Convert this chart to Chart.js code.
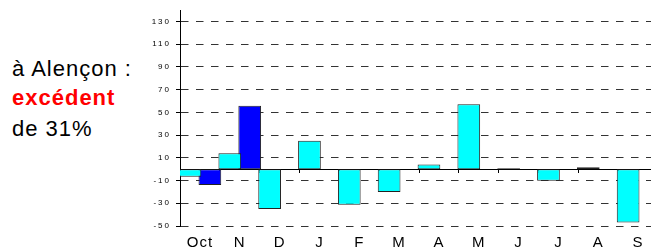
<!DOCTYPE html>
<html>
<head>
<meta charset="utf-8">
<script src="https://cdn.jsdelivr.net/npm/chart.js@4"></script>
<style>
  html, body { margin: 0; padding: 0; width: 651px; height: 249px; overflow: hidden; background: #fff; }
  .note { position: absolute; left: 12px; font-family: "Liberation Sans", Arial, sans-serif; font-size: 22px; letter-spacing: 1px; line-height: 22px; white-space: nowrap; color: #000; }
  .red { color: #ff0000; font-weight: bold; }
  #wrap { position: absolute; left: 140px; top: 0; width: 518px; height: 249px; }
</style>
</head>
<body>
<div class="note" style="top:58px">à Alençon :</div>
<div class="note red" style="top:87px">excédent</div>
<div class="note" style="top:118px">de 31%</div>
<div id="wrap"><canvas id="rainChart" width="518" height="249"></canvas></div>
<script>
// mois (oct -> sept) et écarts à la normale (%)
const months = ['Oct', 'N', 'D', 'J', 'F', 'M', 'A', 'M', 'J', 'J', 'A', 'S'];
const ecartMois = [-6.7, 14, -35, 25, -31.4, -20.2, 4.2, 57.2, 0.8, -10.2, 1.6, -47];
const ecartBleu = [-14, 55.7, null, null, null, null, null, null, null, null, null, null];
const yTicks = [-50, -30, -10, 10, 30, 50, 70, 90, 110, 130];
const yMin = -50, yMax = 140;

const font = '"Liberation Sans", Arial, sans-serif';

// espacement des lettres sur les étiquettes d'axe
function spaced(scale, px) {
  if (scale._spaced) return;
  const orig = scale.drawLabels.bind(scale);
  scale.drawLabels = function (area) {
    const ctx = scale.ctx;
    ctx.save();
    ctx.letterSpacing = px + 'px';
    orig(area);
    ctx.restore();
  };
  scale._spaced = true;
}

const letterPlugin = {
  id: 'letters',
  beforeDraw(chart) {
    spaced(chart.scales.y, 2);
    spaced(chart.scales.x, 1);
  }
};

const noPad = s => { s.paddingLeft = 0; s.paddingRight = 0; s.paddingTop = 0; s.paddingBottom = 0; };

new Chart(document.getElementById('rainChart'), {
  type: 'bar',
  data: {
    labels: months,
    datasets: [
      {
        data: ecartMois,
        backgroundColor: '#00ffff',
        borderColor: '#222',
        borderWidth: 1,
        borderSkipped: false,
        categoryPercentage: 1,
        barPercentage: 1.14
      },
      {
        data: ecartBleu,
        backgroundColor: '#0000ff',
        borderColor: '#222',
        borderWidth: 1,
        borderSkipped: false,
        categoryPercentage: 1,
        barPercentage: 1.14
      }
    ]
  },
  options: {
    responsive: false,
    animation: false,
    layout: { padding: { top: 10, left: 0, right: 0, bottom: 0 } },
    plugins: { legend: { display: false }, tooltip: { enabled: false } },
    scales: {
      x: {
        position: 'bottom',
        offset: true,
        grid: { display: false, drawTicks: false, offset: true },
        border: { display: false },
        ticks: { color: '#000', padding: 8, font: { family: font, size: 15 } },
        afterFit: s => { s.height = 23; noPad(s); }
      },
      x0: {
        type: 'category',
        position: { y: 0 },
        offset: true,
        grid: { offset: true, drawOnChartArea: false, drawTicks: true, tickLength: 3, color: '#000' },
        border: { display: true, color: '#000', width: 1 },
        ticks: { display: false },
        afterFit: noPad
      },
      y: {
        min: yMin,
        max: yMax,
        afterBuildTicks: s => { s.ticks = yTicks.map(v => ({ value: v })); },
        grid: { color: '#333', lineWidth: 1, tickLength: 4, tickColor: '#000', tickBorderDash: [] },
        border: { display: true, color: '#000', width: 1, dash: [7.5, 7.5] },
        ticks: { color: '#000', padding: 5, font: { family: font, size: 8 } },
        afterFit: s => { s.width = 40; noPad(s); }
      }
    }
  },
  plugins: [letterPlugin]
});
</script>
</body>
</html>
